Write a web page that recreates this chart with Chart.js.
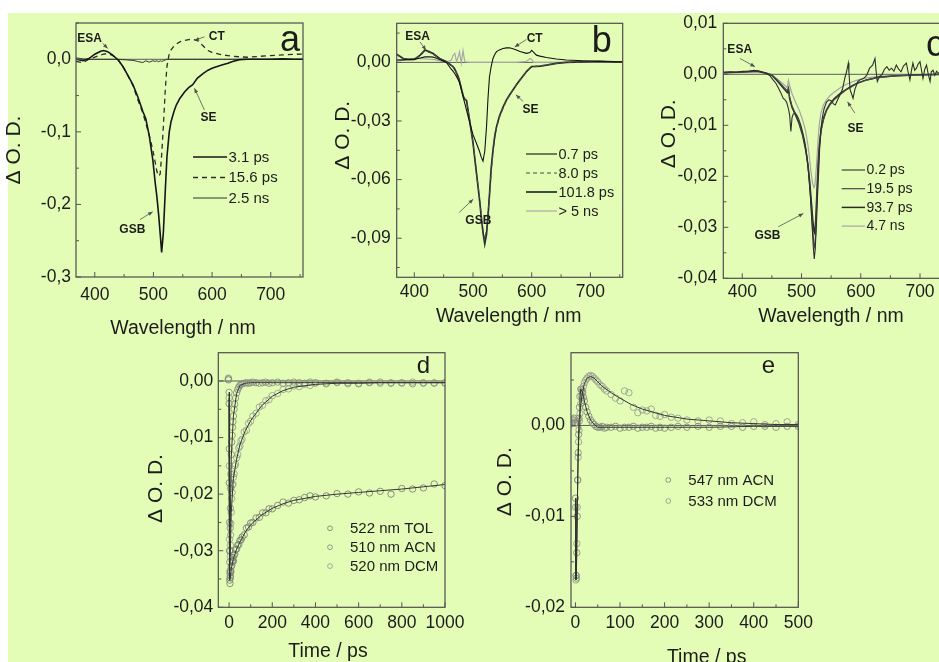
<!DOCTYPE html>
<html>
<head>
<meta charset="utf-8">
<title>Transient absorption spectra and kinetics</title>
<script src="https://cdn.jsdelivr.net/npm/chart.js@4.4.1/dist/chart.umd.min.js"></script>
<style>
  html, body { margin: 0; padding: 0; overflow: hidden; background: #ffffff; }
  body { width: 939px; height: 662px; position: relative; }
  #sheet { position: absolute; left: 8px; top: 13px; width: 931px; height: 649px; background: #e4fdb6; }
  canvas { position: absolute; }
</style>
</head>
<body>
<div id="sheet"></div>
<script>
const FONT = "'Liberation Sans', Arial, sans-serif";
const INK = '#1c1c1c';

// ---- (a) spectra ----
const wlA = [368, 380, 390, 400, 410, 415, 422, 430, 440, 448, 456, 465, 473, 482, 487, 493, 499, 503, 506, 509,
  511.5, 514, 517, 520, 523, 527, 530, 535, 539, 545, 553, 560, 567, 575, 584, 593, 601, 610, 618, 627,
  635, 647, 660, 680, 700, 720, 740, 755];
const a3ps = [0.000, -0.002, 0.001, 0.007, 0.011, 0.012, 0.0105, 0.006, -0.001, -0.010, -0.0216, -0.035, -0.051, -0.072, -0.082, -0.106, -0.139, -0.170, -0.190, -0.215,
  -0.240, -0.266, -0.238, -0.185, -0.135, -0.100, -0.086, -0.072, -0.063, -0.054, -0.045, -0.039, -0.035, -0.026, -0.020, -0.015, -0.012, -0.0095, -0.0075, -0.0055,
  -0.003, -0.0005, 0, 0, 0, 0.0005, 0, 0];
const a15ps = [-0.003, -0.0046, 0, 0.003, 0.006, 0.007, 0.008, 0.0055, -0.001, -0.010, -0.022, -0.036, -0.055, -0.074, -0.088, -0.105, -0.125, -0.142, -0.155, -0.161,
  -0.158, -0.132, -0.092, -0.045, -0.010, 0.008, 0.013, 0.018, 0.021, 0.024, 0.026, 0.0272, 0.0274, 0.0258, 0.019, 0.012, 0.009, 0.0075, 0.006, 0.005,
  0.0042, 0.0034, 0.0028, 0.004, 0.005, 0.006, 0.0068, 0.0073];
const a2ns = [0.002, 0.0005, 0, 0, 0, 0, 0, 0, 0, -0.0005, -0.001, -0.0015, -0.003, -0.0045, -0.002, -0.004, -0.002, -0.003, -0.002, -0.0035,
  -0.002, -0.003, -0.002, -0.001, 0, 0, 0, 0, 0, 0, 0, 0, 0, 0, 0, 0, 0, 0, 0, 0,
  0, 0, 0, 0, 0, 0, 0, 0];

// ---- (b) spectra ----
const wlB = [370, 381, 390, 400, 410, 418, 425, 432, 443, 455, 463, 466, 469, 472, 475, 477, 480, 483, 486, 489,
  494, 500, 506, 511, 514, 517, 520, 523, 525.5, 528, 531, 534, 537, 540, 545, 551, 557, 562, 568, 574,
  580, 591, 597, 600, 603, 608, 614, 625, 642, 659, 687, 715, 741, 755];
const b07ps = [0.0012, 0.0013, 0.0014, 0.0015, 0.0022, 0.0028, 0.0029, 0.0027, 0.0015, -0.0002, -0.0035, -0.0045, -0.0058, -0.0073, -0.0090, -0.0105, -0.0138, -0.0175, -0.0210, -0.0245,
  -0.0305, -0.0370, -0.0415, -0.0455, -0.0485, -0.0505, -0.0455, -0.0330, -0.0185, -0.0075, -0.0020, 0.0020, 0.0040, 0.0055, 0.0064, 0.0071, 0.0074, 0.0075, 0.0070, 0.0063,
  0.0056, 0.0046, 0.0050, 0.0062, 0.0052, 0.0037, 0.0032, 0.0025, 0.0017, 0.0012, 0.0008, 0.0005, 0.0003, 0.0003];
const b8ps = [0.0040, 0.0020, 0.0016, 0.0015, 0.0035, 0.0060, 0.0052, 0.0042, 0.0020, 0.0003, -0.0015, -0.0022, -0.0035, -0.0055, -0.0080, -0.0100, -0.0128, -0.0165, -0.0185, -0.0200,
  -0.0290, -0.0410, -0.0570, -0.0690, -0.0780, -0.0860, -0.0905, -0.0860, -0.0780, -0.0680, -0.0560, -0.0460, -0.0385, -0.0335, -0.0280, -0.0235, -0.0195, -0.0170, -0.0140, -0.0115,
  -0.0090, -0.0050, -0.0030, -0.0025, -0.0022, -0.0020, -0.0018, -0.0014, -0.0005, 0, 0.0003, 0.0004, 0.0003, 0.0002];
const b101ps = [0.0042, 0.0020, 0.0015, 0.0015, 0.0037, 0.0063, 0.0055, 0.0045, 0.0020, 0.0003, -0.0015, -0.0022, -0.0035, -0.0055, -0.0075, -0.0095, -0.0132, -0.0170, -0.0190, -0.0195,
  -0.0293, -0.0412, -0.0570, -0.0700, -0.0790, -0.0870, -0.0929, -0.0880, -0.0790, -0.0680, -0.0540, -0.0450, -0.0378, -0.0330, -0.0276, -0.0230, -0.0192, -0.0168, -0.0141, -0.0115,
  -0.0090, -0.0047, -0.0030, -0.0022, -0.0021, -0.0020, -0.0019, -0.0014, -0.0005, 0, 0.0003, 0.0005, 0.0003, 0.0002];
const b5ns = [0.0008, 0.0012, 0.0016, 0.0020, 0.0019, 0.0018, 0.0016, 0.0015, 0.0008, 0, 0.0012, 0.0035, 0.0046, 0.0003, 0.0030, 0.0054, -0.0005, 0.0060, 0.0003, 0.0002,
  0, 0, 0, 0, 0, 0, 0, 0, 0, 0, 0, 0, 0, 0, 0, 0, 0, 0, 0, 0,
  0.0002, 0.0005, 0.0020, 0.0015, 0, 0, 0, 0, 0, 0, 0, 0, 0, 0];

// ---- (c) spectra ----
const wlC0 = [368, 380, 390, 400, 410, 420, 430, 440, 447, 452, 457, 461, 465, 469, 472, 475, 478, 480, 482, 484,
  486, 489, 492, 495, 499, 503, 506, 509, 512, 515, 518, 520, 521.5, 523, 525, 527, 529, 531, 533, 535,
  538, 542, 546, 550, 554, 557, 561, 565, 569, 573, 576, 579, 580, 582, 585, 587, 590, 595, 600, 605,
  610, 615, 620, 624, 626, 628, 632, 636, 640, 644, 648, 652, 656, 660, 664, 668, 672, 677, 680, 683,
  686, 688, 691, 694, 697, 700, 703, 705, 708, 711, 714, 717, 719, 722, 725, 728, 731, 735, 740];
const c02ps = [0.0004, 0.0005, 0.0004, 0.0006, 0.0006, 0.0008, 0.0006, 0.0002, -0.0003, -0.0011, -0.0018, -0.0027, -0.0036, -0.0047, -0.0050, -0.0055, -0.0068, -0.0080, -0.0112, -0.0085,
  -0.0078, -0.0076, -0.0080, -0.0087, -0.0100, -0.0119, -0.0135, -0.0160, -0.0195, -0.0240, -0.0300, -0.0340, -0.0362, -0.0345, -0.0300, -0.0240, -0.0190, -0.0135, -0.0105, -0.0086,
  -0.0068, -0.0055, -0.0050, -0.0052, -0.0058, -0.0060, -0.0050, -0.0040, -0.0030, -0.0008, 0.0005, 0.0022, 0.0005, -0.0030, -0.0040, -0.0047, -0.0030, -0.0014, -0.0010, -0.0008,
  -0.0002, 0.0012, 0.0018, 0.0031, 0.0005, -0.0014, -0.0004, 0.0000, 0.0010, 0.0015, 0.0008, 0.0012, 0.0006, 0.0018, 0.0010, 0.0005, 0.0016, 0.0022, 0.0004, -0.0011,
  0.0010, 0.0022, 0.0008, 0.0012, 0.0020, 0.0025, 0.0005, -0.0008, 0.0010, 0.0018, 0.0000, -0.0014, 0.0005, 0.0008, -0.0002, 0.0006, 0.0002, 0.0004, 0.0001];
const wlC = [368, 390, 410, 425, 440, 450, 460, 470, 476, 478, 480, 484, 490, 496, 502, 507, 511, 514, 517, 519,
  521, 522.5, 524, 526, 528, 530, 533, 537, 542, 548, 555, 565, 575, 585, 595, 610, 630, 660, 700, 740];
const c19ps = [0.0004, 0.0004, 0.0006, 0.0007, 0.0003, -0.0001, -0.0012, -0.0025, -0.0032, -0.0026, -0.0045, -0.0062, -0.0078, -0.0095, -0.0118, -0.0145, -0.0180, -0.0220, -0.0270, -0.0305,
  -0.0335, -0.0340, -0.0310, -0.0250, -0.0190, -0.0148, -0.0112, -0.0090, -0.0072, -0.0060, -0.0050, -0.0040, -0.0031, -0.0024, -0.0017, -0.0011, -0.0006, -0.0003, -0.0001, 0];
const c93ps = [0.0003, 0.0004, 0.0005, 0.0006, 0.0002, -0.0002, -0.0014, -0.0028, -0.0036, -0.0030, -0.0048, -0.0065, -0.0080, -0.0097, -0.0120, -0.0148, -0.0178, -0.0212, -0.0255, -0.0285,
  -0.0308, -0.0312, -0.0285, -0.0230, -0.0175, -0.0140, -0.0108, -0.0086, -0.0070, -0.0058, -0.0048, -0.0038, -0.0030, -0.0023, -0.0017, -0.0011, -0.0006, -0.0003, -0.0001, 0];
const c47ns = [0.0003, 0.0003, 0.0004, 0.0005, 0.0002, -0.0002, -0.0010, -0.0020, -0.0026, -0.0012, -0.0022, -0.0038, -0.0055, -0.0070, -0.0090, -0.0112, -0.0140, -0.0170, -0.0200, -0.0215,
  -0.0222, -0.0218, -0.0200, -0.0165, -0.0128, -0.0098, -0.0075, -0.0060, -0.0050, -0.0042, -0.0035, -0.0027, -0.0020, -0.0015, -0.0011, -0.0007, -0.0004, -0.0002, -0.0001, 0];

// ---- (d) kinetics at the bleach ----
const tD = [-3, 0, 1, 2, 3, 4, 5, 6, 7, 8, 10, 12, 14, 16, 18, 20, 23, 26, 30, 35,
  40, 45, 50, 55, 60, 70, 80, 90, 100, 110, 125, 140, 155, 170, 185, 200, 225, 250, 275, 300,
  325, 350, 375, 400, 450, 500, 550, 600, 650, 700, 750, 800, 850, 900, 950, 1000];
const dTol = [0.0002, -0.004, -0.018, -0.030, -0.0352, -0.0358, -0.0348, -0.0345, -0.0338, -0.0336, -0.0328, -0.0326, -0.0318, -0.0320, -0.0312, -0.0318, -0.0308, -0.0306, -0.0298, -0.0297,
  -0.0290, -0.0289, -0.0282, -0.0281, -0.0276, -0.0272, -0.0260, -0.0258, -0.0251, -0.0250, -0.0242, -0.0241, -0.0233, -0.0233, -0.0226, -0.0226, -0.0220, -0.0214, -0.0216, -0.0211,
  -0.0210, -0.0206, -0.0203, -0.0205, -0.0203, -0.0199, -0.0200, -0.0196, -0.0198, -0.0195, -0.0200, -0.0190, -0.0191, -0.0189, -0.0182, -0.0185];
const dAcn = [0.0004, -0.002, -0.012, -0.025, -0.032, -0.030, -0.026, -0.0225, -0.019, -0.0165, -0.013, -0.0108, -0.0096, -0.0082, -0.0072, -0.0062, -0.0050, -0.0041, -0.0030, -0.0021,
  -0.0015, -0.0011, -0.0008, -0.0006, -0.0005, -0.0004, -0.0003, -0.0004, -0.0003, -0.0002, -0.0003, -0.0004, -0.0003, -0.0002, -0.0004, -0.0003, -0.0002, -0.0004, -0.0003, -0.0002,
  -0.0003, -0.0004, -0.0002, -0.0003, -0.0004, -0.0002, -0.0003, -0.0005, -0.0003, -0.0002, -0.0004, -0.0003, -0.0005, -0.0003, -0.0004, -0.0003];
const dDcm = [0.0005, -0.003, -0.015, -0.028, -0.034, -0.0335, -0.031, -0.029, -0.0272, -0.0252, -0.0232, -0.0208, -0.0197, -0.0184, -0.0182, -0.0170, -0.0164, -0.0150, -0.0147, -0.0136,
  -0.0130, -0.0118, -0.0115, -0.0106, -0.0103, -0.0090, -0.0087, -0.0075, -0.0071, -0.0062, -0.0057, -0.0046, -0.0043, -0.0035, -0.0033, -0.0026, -0.0022, -0.0015, -0.0014, -0.0009,
  -0.0010, -0.0006, -0.0008, -0.0004, -0.0005, -0.0003, -0.0005, -0.0004, -0.0002, -0.0004, -0.0003, -0.0004, -0.0002, -0.0004, -0.0003, -0.0004];
const tFitD = [0, 1, 2, 3, 5, 10, 20, 35, 50, 75, 100, 150, 200, 250, 300, 400, 500, 600, 700, 800, 900, 1000];
const dTolFit = [-0.004, -0.018, -0.030, -0.0352, -0.0350, -0.0332, -0.0314, -0.0297, -0.0285, -0.0267, -0.0254, -0.0237, -0.0225, -0.0217, -0.0211, -0.0204, -0.0200, -0.0197, -0.0194, -0.0191, -0.0187, -0.0183];
const dAcnFit = [-0.002, -0.012, -0.025, -0.032, -0.026, -0.0135, -0.0062, -0.0022, -0.0008, -0.0004, -0.0003, -0.0003, -0.0003, -0.0003, -0.0003, -0.0003, -0.0003, -0.0003, -0.0003, -0.0003, -0.0003, -0.0003];
const dDcmFit = [-0.003, -0.015, -0.028, -0.034, -0.031, -0.0232, -0.0172, -0.0138, -0.0113, -0.0088, -0.0070, -0.0044, -0.0027, -0.0017, -0.0011, -0.0006, -0.0004, -0.0004, -0.0003, -0.0003, -0.0003, -0.0003];

// ---- (e) kinetics at the CT band ----
const tE = [-8, -5, -3, -1, 0, 1, 2, 3, 4, 5, 6, 7, 8, 9, 10, 12, 14, 16, 18, 20,
  23, 26, 30, 34, 38, 42, 46, 50, 55, 60, 65, 70, 80, 90, 100, 110, 120, 130, 140, 150,
  160, 170, 180, 190, 200, 215, 230, 250, 275, 300, 325, 350, 375, 400, 425, 450, 475, 500];
const eAcn = [0.0002, 0.0006, 0.0008, 0.0003, -0.008, -0.0165, -0.0168, -0.014, -0.010, -0.006, -0.003, -0.001, 0.0008, 0.0020, 0.0032, 0.0040, 0.0039, 0.0036, 0.0031, 0.0027,
  0.0020, 0.0015, 0.0010, 0.0006, 0.0003, 0.0001, -0.0001, -0.0002, -0.0002, -0.0001, -0.0003, -0.0002, -0.0002, -0.0001, -0.0003, -0.0002, -0.0002, -0.0001, -0.0003, -0.0002,
  -0.0002, -0.0001, -0.0003, -0.0002, -0.0003, -0.0002, -0.0001, -0.0002, -0.0001, -0.0002, -0.0001, -0.0001, -0.0002, -0.0001, -0.0001, -0.0002, -0.0001, -0.0001];
const eDcm = [0.0003, 0.0004, 0.0006, 0.0002, -0.009, -0.0170, -0.0165, -0.013, -0.009, -0.006, -0.0035, -0.0018, -0.0005, 0.0005, 0.0013, 0.0024, 0.0032, 0.0038, 0.0043, 0.0047,
  0.0050, 0.0052, 0.0054, 0.0055, 0.0054, 0.0052, 0.0050, 0.0048, 0.0045, 0.0043, 0.0040, 0.0038, 0.0034, 0.0030, 0.0027, 0.0038, 0.0036, 0.0020, 0.0014, 0.0017,
  0.0016, 0.0018, 0.0011, 0.0010, 0.0012, 0.0009, 0.0008, 0.0006, 0.0005, 0.0006, 0.0005, 0.0002, 0.0003, 0.0004, 0.0001, 0.0002, 0.0004, 0.0001];
const tFitEA = [0, 1, 2, 4, 6, 8, 10, 12, 16, 20, 26, 34, 42, 50, 100, 200, 300, 400, 500];
const eAcnFit = [-0.008, -0.0165, -0.0168, -0.010, -0.003, 0.0008, 0.0032, 0.0040, 0.0036, 0.0027, 0.0015, 0.0006, 0.0001, -0.0002, -0.0002, -0.0002, -0.0002, -0.0001, -0.0001];
const tFitED = [0, 1, 2, 4, 6, 8, 10, 14, 20, 26, 34, 42, 50, 60, 80, 100, 125, 150, 200, 250, 300, 350, 400, 450, 500];
const eDcmFit = [-0.009, -0.017, -0.0165, -0.009, -0.0035, -0.0005, 0.0013, 0.0032, 0.0046, 0.0052, 0.0054, 0.0052, 0.0048, 0.0043, 0.0036, 0.0030, 0.0023, 0.0018, 0.0011, 0.0007, 0.0005, 0.0003, 0.0002, 0.0001, 0.0001];

// tick labels
const wlTicks = [400, 500, 600, 700];
const yTicksA = [-0.3, -0.2, -0.1, 0];
const yTicksB = [-0.09, -0.06, -0.03, 0];
const yTicksC = [-0.04, -0.03, -0.02, -0.01, 0, 0.01];
const yTicksD = [-0.04, -0.03, -0.02, -0.01, 0];
const yTicksE = [-0.02, -0.01, 0];
const tTicksD = [0, 200, 400, 600, 800, 1000];
const tTicksE = [0, 100, 200, 300, 400, 500];

function pts(xs, ys) { return xs.map((x, i) => ({ x: x, y: ys[i] })); }

function line(label, xs, ys, color, width, dash) {
  return { label, data: pts(xs, ys), showLine: true, borderColor: color, borderWidth: width,
    borderDash: dash || [], pointRadius: 0, tension: 0, order: 0 };
}
function dots(label, xs, ys, color) {
  return { label, data: pts(xs, ys), showLine: false, pointRadius: 3.2, pointBorderWidth: 0.9,
    pointBorderColor: color, pointBackgroundColor: 'rgba(0,0,0,0)', order: 1 };
}

// box = canvas [left, top, w, h], plot = chart area [left, top, right, bottom] on the page
const panels = [
  {
    box: [0, 0, 330, 345], plot: [76, 23, 303, 277],
    x: [368, 755], xt: wlTicks, y: [-0.3, 0.05], yt: yTicksA, dec: 1, xPad: 8, yPad: 5,
    xTitle: ['Wavelength / nm', -6.5, 57.3], yTitle: ['Δ O. D.', -62, 0],
    letter: ['a', 13, 18, 36],
    datasets: [
      line('3.1 ps', wlA, a3ps, '#161616', 1.6),
      line('15.6 ps', wlA, a15ps, '#2c2c2c', 1.3, [5, 4]),
      line('2.5 ns', wlA, a2ns, '#333333', 1)
    ],
    legend: { dx: 110, dy: 134, len: 34, gap: 20.5, size: 15, items: [0, 1, 2] },
    notes: [
      ['ESA', 391, 0.029, 413.6, 0.022, 422, 0.015],
      ['CT', 608, 0.031, 587, 0.031, 570, 0.026],
      ['SE', 594, -0.081, 587, -0.070, 570, -0.040],
      ['GSB', 464, -0.235, 477, -0.221, 498.8, -0.21]
    ]
  },
  {
    box: [325, 0, 325, 345], plot: [396.7, 23.3, 622.7, 277.3],
    x: [370, 755], xt: wlTicks, y: [-0.11, 0.02], yt: yTicksB, dec: 2, xPad: 4.7, yPad: 6,
    xTitle: ['Wavelength / nm', -1, 44.4], yTitle: ['Δ O. D.', -53.7, -15],
    letter: ['b', 21, 18.4, 36],
    datasets: [
      line('0.7 ps', wlB, b07ps, '#121212', 1.1),
      line('8.0 ps', wlB, b8ps, '#4a4a4a', 1.2, [4, 3]),
      line('101.8 ps', wlB, b101ps, '#2a2a2a', 1.7),
      line('> 5 ns', wlB, b5ns, '#a9a9a9', 1.2)
    ],
    legend: { dx: 96.7, dy: 130.7, len: 31, gap: 19, size: 14.5, items: [0, 1, 2, 3] },
    notes: [
      ['ESA', 405.4, 0.013, 409.6, 0.0105, 419.9, 0.0063],
      ['CT', 605, 0.0122, 591, 0.0117, 571, 0.0079],
      ['SE', 598, -0.0243, 585.4, -0.020, 573, -0.0166],
      ['GSB', 509, -0.081, 476.5, -0.0768, 500.3, -0.070]
    ]
  },
  {
    box: [650, 0, 320, 345], plot: [723.3, 23.3, 943.7, 278.3],
    x: [368, 740], xt: wlTicks, y: [-0.04, 0.01], yt: yTicksC, dec: 2, xPad: 3.2, yPad: 6,
    xTitle: ['Wavelength / nm', -2.5, 43.4], yTitle: ['Δ O. D.', -54.3, -17],
    letter: ['c', 8.7, 23, 36],
    datasets: [
      line('0.2 ps', wlC0, c02ps, '#2e2e2e', 1.1),
      line('19.5 ps', wlC, c19ps, '#474747', 1.2),
      line('93.7 ps', wlC, c93ps, '#2a2a2a', 1.5),
      line('4.7 ns', wlC, c47ns, '#a5a5a5', 1.2)
    ],
    legend: { dx: 102, dy: 146.7, len: 23.3, gap: 18.7, size: 14, items: [0, 1, 2, 3] },
    notes: [
      ['ESA', 395.7, 0.0048, 396.2, 0.0031, 421.5, 0.0015],
      ['SE', 591, -0.0106, 590, -0.0076, 577.7, -0.0054],
      ['GSB', 442.5, -0.0317, 460.8, -0.0299, 503, -0.0273]
    ]
  },
  {
    box: [140, 330, 335, 332], plot: [218.3, 352.7, 445, 607.3],
    x: [-50, 1000], xt: tTicksD, y: [-0.04, 0.005], yt: yTicksD, dec: 2, xPad: 5.5, yPad: 5,
    xTitle: ['Time / ps', -3.7, 49.4], yTitle: ['Δ O. D.', -62.3, 8.5],
    letter: ['d', 21.7, 14, 24],
    datasets: [
      line('522 nm TOL fit', tFitD, dTolFit, '#343434', 1),
      line('510 nm ACN fit', tFitD, dAcnFit, '#343434', 1),
      line('520 nm DCM fit', tFitD, dDcmFit, '#343434', 1),
      dots('522 nm TOL', tD, dTol, '#7d8577'),
      dots('510 nm ACN', tD, dAcn, '#8a9184'),
      dots('520 nm DCM', tD, dDcm, '#9ca394')
    ],
    legend: { dx: 115, dy: 175.6, gap: 18.9, size: 15, items: [3, 4, 5] },
    notes: []
  },
  {
    box: [495, 330, 335, 332], plot: [571, 352.7, 798.3, 607.3],
    x: [-10, 500], xt: tTicksE, y: [-0.02, 0.008], yt: yTicksE, dec: 2, xPad: 5.2, yPad: 6,
    xTitle: ['Time / ps', 22, 55.7], yTitle: ['Δ O. D.', -66, 1.7],
    letter: ['e', 30, 13.3, 24],
    datasets: [
      line('547 nm ACN fit', tFitEA, eAcnFit, '#343434', 1),
      line('533 nm DCM fit', tFitED, eDcmFit, '#343434', 1),
      dots('547 nm ACN', tE, eAcn, '#838b7d'),
      dots('533 nm DCM', tE, eDcm, '#98a090')
    ],
    legend: { dx: 130, dy: 127.3, gap: 21, size: 15, items: [2, 3] },
    notes: []
  }
];

function arrow(ctx, x1, y1, x2, y2) {
  ctx.beginPath(); ctx.moveTo(x1, y1); ctx.lineTo(x2, y2); ctx.stroke();
  const ang = Math.atan2(y2 - y1, x2 - x1), h = 5;
  ctx.beginPath();
  ctx.moveTo(x2, y2);
  ctx.lineTo(x2 - h * Math.cos(ang - 0.4), y2 - h * Math.sin(ang - 0.4));
  ctx.lineTo(x2 - h * Math.cos(ang + 0.4), y2 - h * Math.sin(ang + 0.4));
  ctx.closePath(); ctx.fill();
}

function minors(vals, lo, hi) {
  const step = vals[1] - vals[0], out = [];
  [vals[0] - step].concat(vals).forEach(v => {
    const m = v + step / 2;
    if (m > lo && m < hi) out.push(m);
  });
  return out;
}

// zero line, frame, inward ticks, legend, labels
function decor(p) {
  return {
    id: 'decor',
    beforeDatasetsDraw(chart) {
      const { ctx, chartArea: a, scales: { y } } = chart;
      const y0 = y.getPixelForValue(0);
      ctx.save();
      ctx.strokeStyle = '#5a5a5a'; ctx.lineWidth = 1;
      ctx.beginPath(); ctx.moveTo(a.left, y0); ctx.lineTo(a.right, y0); ctx.stroke();
      ctx.restore();
    },
    afterDraw(chart) {
      const { ctx, chartArea: a, scales: { x, y } } = chart;
      ctx.save();
      ctx.strokeStyle = '#4e4e4e'; ctx.lineWidth = 1.2;
      ctx.strokeRect(a.left, a.top, a.right - a.left, a.bottom - a.top);

      ctx.lineWidth = 1; ctx.strokeStyle = '#555';
      ctx.beginPath();
      p.yt.forEach(v => { const py = y.getPixelForValue(v); ctx.moveTo(a.left, py); ctx.lineTo(a.left + 5, py); });
      minors(p.yt, p.y[0], p.y[1]).forEach(v => { const py = y.getPixelForValue(v); ctx.moveTo(a.left, py); ctx.lineTo(a.left + 3, py); });
      p.xt.forEach(v => { const px = x.getPixelForValue(v); ctx.moveTo(px, a.bottom); ctx.lineTo(px, a.bottom - 5); });
      minors(p.xt, p.x[0], p.x[1]).forEach(v => { const px = x.getPixelForValue(v); ctx.moveTo(px, a.bottom); ctx.lineTo(px, a.bottom - 3); });
      ctx.stroke();

      // legend
      const lg = p.legend;
      ctx.font = lg.size + 'px ' + FONT;
      ctx.textAlign = 'left'; ctx.textBaseline = 'middle';
      lg.items.forEach((idx, k) => {
        const ds = chart.data.datasets[idx];
        const lx = a.right - lg.dx, ly = a.top + lg.dy + k * lg.gap;
        if (ds.showLine) {
          ctx.save();
          ctx.strokeStyle = ds.borderColor; ctx.lineWidth = ds.borderWidth;
          ctx.setLineDash(ds.borderDash);
          ctx.beginPath(); ctx.moveTo(lx, ly); ctx.lineTo(lx + lg.len, ly); ctx.stroke();
          ctx.restore();
          ctx.fillStyle = INK;
          ctx.fillText(ds.label, lx + lg.len + 1.5, ly + 0.5);
        } else {
          ctx.strokeStyle = ds.pointBorderColor; ctx.lineWidth = 0.9;
          ctx.beginPath(); ctx.arc(lx, ly, 2.4, 0, Math.PI * 2); ctx.stroke();
          ctx.fillStyle = INK;
          ctx.fillText(ds.label, lx + 20, ly + 0.5);
        }
      });

      // band labels with pointers
      ctx.font = 'bold 12px ' + FONT;
      ctx.textAlign = 'center'; ctx.textBaseline = 'middle';
      ctx.fillStyle = INK; ctx.strokeStyle = '#505050'; ctx.lineWidth = 0.8;
      p.notes.forEach(n => {
        ctx.fillText(n[0], x.getPixelForValue(n[1]), y.getPixelForValue(n[2]));
        ctx.fillStyle = '#505050';
        arrow(ctx, x.getPixelForValue(n[3]), y.getPixelForValue(n[4]), x.getPixelForValue(n[5]), y.getPixelForValue(n[6]));
        ctx.fillStyle = INK;
      });

      // panel letter
      ctx.font = p.letter[3] + 'px ' + FONT;
      ctx.fillText(p.letter[0], a.right - p.letter[1], a.top + p.letter[2]);

      // axis titles
      ctx.font = '19.5px ' + FONT;
      ctx.textBaseline = 'alphabetic';
      ctx.fillText(p.xTitle[0], (a.left + a.right) / 2 + p.xTitle[1], a.bottom + p.xTitle[2]);
      ctx.translate(a.left + p.yTitle[1], (a.top + a.bottom) / 2 + p.yTitle[2]);
      ctx.rotate(-Math.PI / 2);
      ctx.font = '21px ' + FONT;
      ctx.textBaseline = 'middle';
      ctx.fillText(p.yTitle[0], 0, 0);
      ctx.restore();
    }
  };
}

panels.forEach(p => {
  const [cx, cy, cw, ch] = p.box, [L, T, R, B] = p.plot;
  const cv = document.createElement('canvas');
  cv.width = cw; cv.height = ch;
  cv.style.left = cx + 'px'; cv.style.top = cy + 'px';
  document.body.appendChild(cv);
  const tickFont = { family: FONT, size: 17.5 };
  new Chart(cv, {
    type: 'scatter',
    data: { datasets: p.datasets },
    options: {
      responsive: false, animation: false, events: [],
      layout: { padding: { left: 0, top: T - cy, right: cx + cw - R, bottom: 0 } },
      plugins: { legend: { display: false }, tooltip: { enabled: false } },
      scales: {
        x: {
          type: 'linear', position: 'bottom', min: p.x[0], max: p.x[1],
          grid: { display: false, drawTicks: false }, border: { display: false },
          ticks: { padding: p.xPad, color: INK, font: tickFont, autoSkip: false, maxRotation: 0, callback: v => String(v) },
          afterBuildTicks: s => { s.ticks = p.xt.map(v => ({ value: v })); },
          afterFit: s => { s.height = cy + ch - B; }
        },
        y: {
          type: 'linear', position: 'left', min: p.y[0], max: p.y[1],
          grid: { display: false, drawTicks: false }, border: { display: false },
          ticks: { padding: p.yPad, color: INK, font: tickFont, autoSkip: false, callback: v => v.toFixed(p.dec).replace('.', ',') },
          afterBuildTicks: s => { s.ticks = p.yt.map(v => ({ value: v })); },
          afterFit: s => { s.width = L - cx; }
        }
      }
    },
    plugins: [decor(p)]
  });
});
</script>
</body>
</html>
